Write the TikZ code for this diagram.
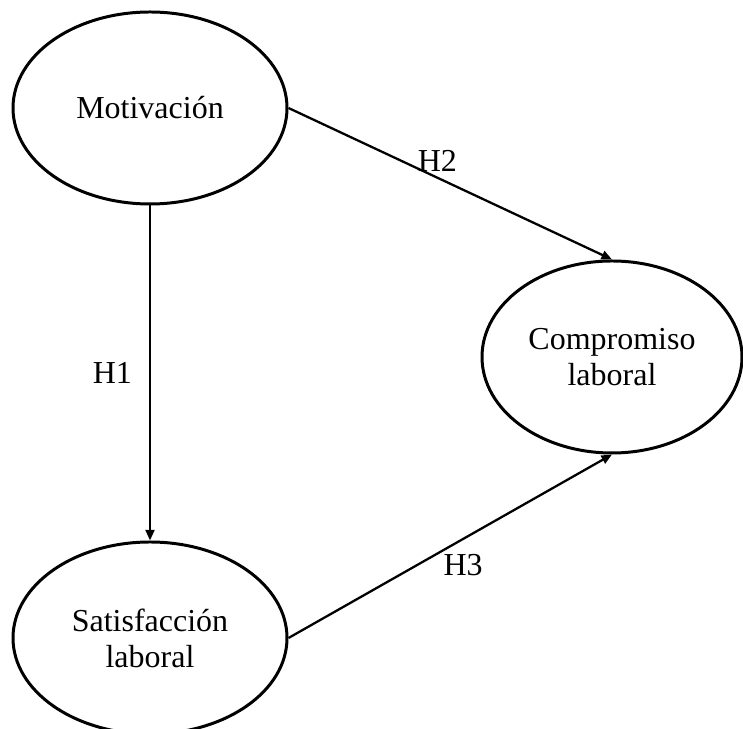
\documentclass[tikz,border=0pt]{standalone}
\usepackage{fontspec}
\setmainfont{Liberation Serif}
\usetikzlibrary{shapes.geometric,arrows.meta}
\begin{document}
\begin{tikzpicture}[
        construct/.style={ellipse, draw, line width=1.7pt, inner sep=0pt, align=center,
            font=\fontsize{18.2}{20.5}\selectfont},
        hyp/.style={-{Triangle[length=6pt,width=5pt]}, line width=1.3pt},
        hlabel/.style={inner sep=0pt, font=\fontsize{18.2}{20.5}\selectfont}]
        \useasboundingbox (0,0) rectangle (14.86,14.58);
        \node [construct, minimum width=5.48cm, minimum height=3.84cm] (mot) at (3.0,12.42) {Motivación};
        \node [construct, minimum width=5.2cm, minimum height=3.84cm] (comp) at (12.24,7.44) {Compromiso\\laboral};
        \node [construct, minimum width=5.48cm, minimum height=3.84cm] (sat) at (3.0,1.82) {Satisfacción\\laboral};
        \draw [hyp] (mot.south) -- (sat.north) node [hlabel, midway, left=0.34cm] {H1};
        \draw [hyp] (mot.east) -- (comp.north) node [hlabel, pos=0.46, above=0.1cm] {H2};
        \draw [hyp] (sat.east) -- (comp.south) node [hlabel, pos=0.54, below=0.28cm] {H3};
    \end{tikzpicture}
\end{document}
